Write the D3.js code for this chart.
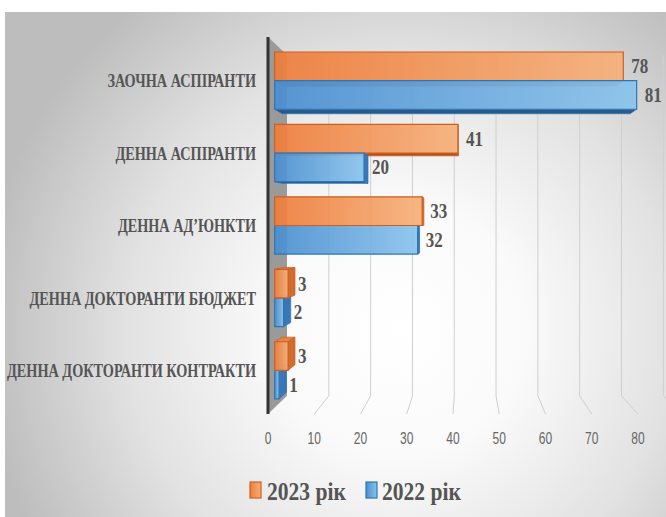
<!DOCTYPE html>
<html><head><meta charset="utf-8">
<script src="https://cdn.jsdelivr.net/npm/d3@7"></script>
<style>html,body{margin:0;padding:0;background:#fff;overflow:hidden}
.serif{font-family:"Liberation Serif","DejaVu Serif","Times New Roman",serif;font-weight:bold}
.sans{font-family:"Liberation Sans","DejaVu Sans",Arial,sans-serif}</style>
</head><body><svg id="c" width="666" height="517"></svg>
<script>
const categories = ["ЗАОЧНА АСПІРАНТИ","ДЕННА АСПІРАНТИ","ДЕННА АД’ЮНКТИ","ДЕННА ДОКТОРАНТИ БЮДЖЕТ","ДЕННА ДОКТОРАНТИ КОНТРАКТИ"];
const seriesNames = ["2023 рік","2022 рік"];
const values2023 = [78,41,33,3,3];
const values2022 = [81,20,32,2,1];
const tickValues = [0,10,20,30,40,50,60,70,80];
const gridValues = [10,20,30,40,50,60,70,80,90];

const svg = d3.select("#c");
const defs = svg.append("defs");

// background
const bg = defs.append("radialGradient").attr("id","bg").attr("gradientUnits","userSpaceOnUse")
  .attr("cx",400).attr("cy",330).attr("r",420);
[[0,"#ffffff"],[0.3,"#fafafa"],[0.65,"#e2e2e2"],[1,"#bdbdbd"]].forEach(([o,c])=>bg.append("stop").attr("offset",o).attr("stop-color",c));
svg.append("rect").attr("x",5).attr("y",12).attr("width",661).attr("height",505).attr("fill","url(#bg)");

const palette = {
  "2023 рік": {a:"#ee7d3b", b:"#f6b07a", stroke:"#cf5f1e", side:"#cf6c2e", top:"#e58447", bottom:"#a9521d"},
  "2022 рік": {a:"#4a8ed0", b:"#8ac3ec", stroke:"#2e75b6", side:"#3a77b6", top:"#4f8fcf", bottom:"#2a5a88"}
};
seriesNames.forEach((s,i)=>{
  const g = defs.append("linearGradient").attr("id","g"+i).attr("x1",0).attr("x2",1).attr("y1",0).attr("y2",0);
  g.append("stop").attr("offset",0).attr("stop-color",palette[s].a);
  g.append("stop").attr("offset",1).attr("stop-color",palette[s].b);
});

const x = d3.scaleLinear().domain([0,90]).range([268, 268+4.625*90]);
const y = d3.scaleBand().domain(categories).range([37,414]).paddingInner(0.21).paddingOuter(0.12);
const ys = d3.scaleBand().domain(seriesNames).range([0, y.bandwidth()]);
const VP = [466,225], K = 0.096, Z1 = 0.35, Z2 = 0.74;
function P(v, yy, z){ const xf = x(v), t = K*z; return [xf + t*(VP[0]-xf), yy + t*(VP[1]-yy)]; }
const line = d3.line();
const poly = pts => line(pts) + "Z";

// gridlines
const [y0, y1] = y.range();
svg.append("g").selectAll("path").data(gridValues).join("path")
  .attr("d", v => line([P(v,y0,1), P(v,y1,1), P(v,y1,0)]))
  .attr("fill","none").attr("stroke","#cfcfcf").attr("stroke-width",1);

// wall
svg.append("path").attr("d", poly([P(0,y0,0),P(0,y0,1),P(0,y1,1),P(0,y1,0)])).attr("fill","#9a9a9a");
svg.append("path").attr("d", line([P(0,y0,0),P(0,y1,0)])).attr("stroke","#333").attr("stroke-width",3);

// bars
const bars = [];
categories.forEach((c,i)=>{
  [values2023[i], values2022[i]].forEach((v,j)=>{
    const s = seriesNames[j];
    const yt = y(c) + ys(s), yb = yt + ys.bandwidth();
    bars.push({c, s, j, v, yt, yb});
  });
});
bars.sort((a,b)=>Math.abs((b.yt+b.yb)/2-VP[1]) - Math.abs((a.yt+a.yb)/2-VP[1]));
const gb = svg.append("g");
bars.forEach(d=>{
  const p = palette[d.s], g = gb.append("g");
  if (d.yt > VP[1]) g.append("path").attr("d", poly([P(0,d.yt,Z1),P(d.v,d.yt,Z1),P(d.v,d.yt,Z2),P(0,d.yt,Z2)])).attr("fill",p.top).attr("stroke",p.stroke).attr("stroke-width",0.8);
  if (d.yb < VP[1]) g.append("path").attr("d", poly([P(0,d.yb,Z1),P(d.v,d.yb,Z1),P(d.v,d.yb,Z2),P(0,d.yb,Z2)])).attr("fill",p.bottom).attr("stroke",p.stroke).attr("stroke-width",0.8);
  if (x(d.v) < VP[0]) g.append("path").attr("d", poly([P(d.v,d.yt,Z1),P(d.v,d.yt,Z2),P(d.v,d.yb,Z2),P(d.v,d.yb,Z1)])).attr("fill",p.side).attr("stroke",p.stroke).attr("stroke-width",0.8);
  g.append("path").attr("d", poly([P(0,d.yt,Z1),P(d.v,d.yt,Z1),P(d.v,d.yb,Z1),P(0,d.yb,Z1)]))
    .attr("fill","url(#g"+d.j+")").attr("fill-opacity",0.92).attr("stroke",p.stroke).attr("stroke-width",1.2);
});

// value labels
const lab = svg.append("g").attr("class","serif").attr("font-size",20).attr("fill","#555");
bars.forEach(d=>{
  const yc = (d.yt+d.yb)/2;
  const pf = P(d.v,yc,Z1), pb = P(d.v,yc,Z2);
  const lx = Math.max(pf[0]+8, pb[0]+3);
  lab.append("text").attr("transform",`translate(${lx},${pf[1]}) scale(0.85,1)`).attr("dy","0.35em").text(d.v);
});

// category labels
const cl = svg.append("g").attr("class","serif").attr("font-size",19).attr("fill","#555").attr("text-anchor","end");
categories.forEach(c=>{
  const yc = P(0, y(c)+y.bandwidth()/2, Z1)[1];
  cl.append("text").attr("transform",`translate(256,${yc}) scale(0.75,1)`).attr("dy","0.35em").text(c);
});

// tick labels
const tl = svg.append("g").attr("class","sans").attr("font-size",16).attr("fill","#666").attr("text-anchor","middle");
tickValues.forEach(v=>{
  tl.append("text").attr("transform",`translate(${x(v)},438) scale(0.75,1)`).attr("dy","0.35em").text(v);
});

// legend
const lg = svg.append("g");
const legendPos = [{sx:250, tx:267},{sx:366, tx:382}];
seriesNames.forEach((s,i)=>{
  lg.append("rect").attr("x",legendPos[i].sx).attr("y",482).attr("width",11).attr("height",16)
    .attr("fill","url(#g"+i+")").attr("stroke",palette[s].stroke).attr("stroke-width",1.2);
  lg.append("text").attr("class","serif").attr("transform",`translate(${legendPos[i].tx},500) scale(0.83,1)`)
    .attr("font-size",26).attr("fill","#555").text(s);
});
</script>
</body></html>
